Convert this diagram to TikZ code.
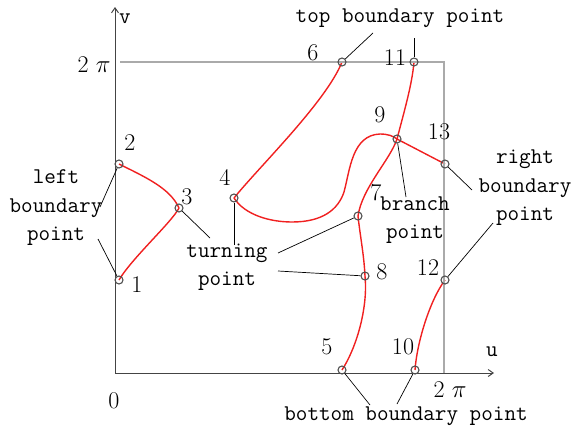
\documentclass[tikz,border=0pt]{standalone}
\usepackage{fontspec}
\usetikzlibrary{backgrounds,arrows.meta}
\definecolor{axisgray}{HTML}{444444}
\definecolor{boxgray}{HTML}{AAAAAA}
\definecolor{markgray}{HTML}{505050}
\definecolor{curvered}{HTML}{F02020}
\begin{document}
\begin{tikzpicture}[x=1pt,y=-1pt,
  pt/.style={circle,draw=markgray,line width=1.1pt,minimum size=8pt,inner sep=0pt},
  lbl/.style={font=\fontsize{22.5}{28.5}\selectfont\ttfamily,align=center,inner sep=0pt},
  num/.style={font=\fontsize{24}{28}\selectfont\rmfamily,inner sep=0pt},
  curve/.style={draw=curvered,line width=1.4pt},
  leader/.style={draw=black,line width=0.7pt},
  axis/.style={draw=axisgray,line width=1pt,-{Straight Barb[length=5pt,width=7pt]}},
  box/.style={draw=boxgray,line width=1.3pt}]
\useasboundingbox (0,0) rectangle (572,431);
% axes and box
\coordinate (o) at (115,373);
\coordinate (vtip) at (115,7);
\coordinate (utip) at (494,373);
\coordinate (tl) at (120,62);
\coordinate (tr) at (444,62);
\coordinate (br) at (444,373);
\draw[box] (tl) -- (tr) -- (br);
\draw[axis] (o) -- (vtip);
\draw[axis] (o) -- (utip);
\node[lbl] (v) at (125,19) {v};
\node[lbl] (u) at (492,352) {u};
\node[num] (tp) at (94,65) {2 $\pi$};
\node[num] (bp) at (450,390) {2 $\pi$};
\node[num] (zero) at (114,401) {0};
% points
\node[pt] (p1) at (119,280) {};
\node[pt] (p2) at (119,164) {};
\node[pt] (p3) at (179,208) {};
\node[pt] (p4) at (234,198) {};
\node[pt] (p5) at (342,370) {};
\node[pt] (p6) at (342,62) {};
\node[pt] (p7) at (358,216) {};
\node[pt] (p8) at (365,276) {};
\node[pt] (p9) at (397,139) {};
\node[pt] (p10) at (415,370) {};
\node[pt] (p11) at (414,62) {};
\node[pt] (p12) at (445,280) {};
\node[pt] (p13) at (445,164) {};
% curves
\begin{scope}[on background layer]
\draw[curve] (p2.center) .. controls (145,177) and (170,188) .. (p3.center);
\draw[curve] (p3.center) .. controls (172,222) and (132,258) .. (p1.center);
\draw[curve] (p4.center) .. controls (258,168) and (326,102) .. (p6.center);
\draw[curve] (p4.center) .. controls (245,215) and (270,222) .. (292,222)
  .. controls (322,222) and (338,210) .. (344,192)
  .. controls (350,170) and (352,135) .. (380,134)
  .. controls (388,134) and (393,136) .. (p9.center);
\draw[curve] (p9.center) .. controls (404,112) and (412,85) .. (p11.center);
\draw[curve] (p9.center) -- (p13.center);
\draw[curve] (p9.center) .. controls (390,160) and (362,188) .. (p7.center);
\draw[curve] (p7.center) .. controls (360,235) and (364,255) .. (p8.center);
\draw[curve] (p8.center) .. controls (368,305) and (358,345) .. (p5.center);
\draw[curve] (p10.center) .. controls (417,342) and (430,300) .. (p12.center);
\end{scope}
% numbers
\node[num] (n1) at (137,285) {1};
\node[num] (n2) at (130,143) {2};
\node[num] (n3) at (187,197) {3};
\node[num] (n4) at (225,177) {4};
\node[num] (n5) at (327,347) {5};
\node[num] (n6) at (313,53) {6};
\node[num] (n7) at (376,193) {7};
\node[num] (n8) at (382,272) {8};
\node[num] (n9) at (380,115) {9};
\node[num] (n10) at (403,347) {10};
\node[num] (n11) at (395,58) {11};
\node[num] (n12) at (428,268) {12};
\node[num] (n13) at (439,132) {13};
% labels
\node[lbl] (top) at (400,18) {top boundary point};
\node[lbl] (left) at (56,208) {left\\boundary\\point};
\node[lbl] (turn) at (227,267) {turning\\point};
\node[lbl] (branch) at (415,220) {branch\\point};
\node[lbl] (right) at (525,188) {right\\boundary\\point};
\node[lbl] (bottom) at (406,416) {bottom boundary point};
% leader lines
\coordinate (la) at (100,207);
\coordinate (lb) at (98,239);
\coordinate (ta) at (210,238);
\coordinate (tb) at (234,245);
\coordinate (tc) at (278,253);
\coordinate (td) at (278,271);
\coordinate (sa) at (373,33);
\coordinate (sb) at (414,38);
\coordinate (ba) at (406,197);
\coordinate (ra) at (472,190);
\coordinate (rb) at (493,223);
\coordinate (da) at (370,405);
\coordinate (db) at (397,404);
\draw[leader] (la) -- (p2);
\draw[leader] (lb) -- (p1);
\draw[leader] (ta) -- (p3);
\draw[leader] (tb) -- (p4);
\draw[leader] (tc) -- (p7);
\draw[leader] (td) -- (p8);
\draw[leader] (sa) -- (p6);
\draw[leader] (sb) -- (p11);
\draw[leader] (ba) -- (p9);
\draw[leader] (ra) -- (p13);
\draw[leader] (rb) -- (p12);
\draw[leader] (da) -- (p5);
\draw[leader] (db) -- (p10);
\end{tikzpicture}
\end{document}
